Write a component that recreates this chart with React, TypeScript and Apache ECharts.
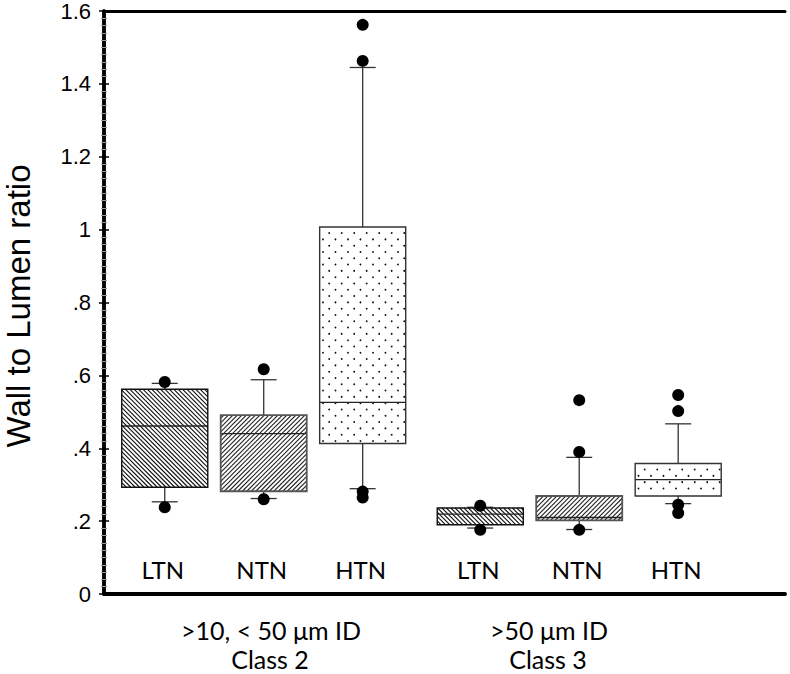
import React, { useEffect, useRef } from "react";
import * as echarts from "echarts";

// ---- data ----
const groups = ["LTN", "NTN", "HTN"];
const classLine1 = [">10, < 50 μm ID", ">50 μm ID"];
const classLine2 = ["Class 2", "Class 3"];
const yTickLabels = ["0", ".2", ".4", ".6", ".8", "1", "1.2", "1.4", "1.6"];

// order: Class2 LTN, NTN, HTN, Class3 LTN, NTN, HTN
const lowerWhisker = [0.253, 0.262, 0.289, 0.181, 0.177, 0.248];
const q1 = [0.293, 0.282, 0.413, 0.19, 0.202, 0.269];
const median = [0.461, 0.44, 0.526, 0.219, 0.21, 0.314];
const q3 = [0.562, 0.491, 1.007, 0.236, 0.269, 0.358];
const upperWhisker = [0.578, 0.588, 1.445, 0.238, 0.375, 0.467];
const outliers = [
  [0.582, 0.238],
  [0.617, 0.26],
  [1.562, 1.463, 0.281, 0.265],
  [0.242, 0.176],
  [0.532, 0.39, 0.176],
  [0.546, 0.502, 0.245, 0.222],
];

// ---- layout ----
const BOX_W = 0.878;
const CAP_HALF = 13;
const posOf = (k: number) => {
  const g = Math.floor(k / 3);
  const j = k % 3;
  return 0.62 + j * 1.01 + g * 3.22;
};

function hatch(x0: number, y0: number, x1: number, y1: number, dir: number, p: number, color: string) {
  const out: any[] = [];
  if (dir < 0) {
    const cMin = Math.floor((y0 - x1) / p) * p;
    const cMax = y1 - x0;
    for (let c = cMin; c <= cMax; c += p) {
      const xs = Math.max(x0, y0 - c);
      const xe = Math.min(x1, y1 - c);
      if (xe - xs > 0.3) {
        out.push({
          type: "line",
          silent: true,
          shape: { x1: xs, y1: xs + c, x2: xe, y2: xe + c },
          style: { stroke: color, lineWidth: 1.1 },
        });
      }
    }
  } else {
    const cMin = Math.floor((x0 + y0) / p) * p;
    const cMax = x1 + y1;
    for (let c = cMin; c <= cMax; c += p) {
      const xs = Math.max(x0, c - y1);
      const xe = Math.min(x1, c - y0);
      if (xe - xs > 0.3) {
        out.push({
          type: "line",
          silent: true,
          shape: { x1: xs, y1: c - xs, x2: xe, y2: c - xe },
          style: { stroke: color, lineWidth: 1.1 },
        });
      }
    }
  }
  return out;
}

function dots(x0: number, y0: number, x1: number, y1: number) {
  const out: any[] = [];
  let r = 0;
  for (let y = y0 + 6; y < y1 - 1.5; y += 6.3, r++) {
    const off = r % 2 === 0 ? 9.5 : 3.3;
    for (let x = x0 + off; x < x1 - 1.5; x += 12.5) {
      out.push({
        type: "circle",
        silent: true,
        shape: { cx: x, cy: y, r: 0.9 },
        style: { fill: "#111" },
      });
    }
  }
  return out;
}

export default function App() {
  const ref = useRef<HTMLDivElement>(null);

  useEffect(() => {
    if (!ref.current) return;
    const chart = echarts.init(ref.current, undefined, { renderer: "svg" });

    const boxData = lowerWhisker.map((_, k) => [
      posOf(k),
      lowerWhisker[k],
      q1[k],
      median[k],
      q3[k],
      upperWhisker[k],
    ]);
    const outlierData: number[][] = [];
    outliers.forEach((arr, k) => arr.forEach((v) => outlierData.push([posOf(k), v])));

    const borderColors = ["#111", "#555", "#333"];

    const renderItem = (params: any, api: any) => {
      const k = params.dataIndex;
      const j = k % 3;
      const x = api.value(0);
      const pLw = api.coord([x, api.value(1)]);
      const pQ1 = api.coord([x, api.value(2)]);
      const pMed = api.coord([x, api.value(3)]);
      const pQ3 = api.coord([x, api.value(4)]);
      const pUw = api.coord([x, api.value(5)]);
      const p0 = api.coord([x, 0]);
      const half = api.size([BOX_W, 0])[0] / 2;
      const cx = pMed[0];
      const bx0 = cx - half;
      const bx1 = cx + half;
      const by0 = pQ3[1];
      const by1 = pQ1[1];
      const wStyle = { stroke: "#333", lineWidth: 1.3 };
      const children: any[] = [
        { type: "line", shape: { x1: cx, y1: by0, x2: cx, y2: pUw[1] }, style: wStyle },
        { type: "line", shape: { x1: cx - CAP_HALF, y1: pUw[1], x2: cx + CAP_HALF, y2: pUw[1] }, style: wStyle },
        { type: "line", shape: { x1: cx, y1: by1, x2: cx, y2: pLw[1] }, style: wStyle },
        { type: "line", shape: { x1: cx - CAP_HALF, y1: pLw[1], x2: cx + CAP_HALF, y2: pLw[1] }, style: wStyle },
        {
          type: "rect",
          shape: { x: bx0, y: by0, width: bx1 - bx0, height: by1 - by0 },
          style: { fill: "#fff", stroke: "none" },
        },
      ];
      if (j === 0) children.push(...hatch(bx0, by0, bx1, by1, -1, 4.4, "#111"));
      else if (j === 1) children.push(...hatch(bx0, by0, bx1, by1, 1, 4.5, "#222"));
      else children.push(...dots(bx0, by0, bx1, by1));
      children.push(
        {
          type: "line",
          shape: { x1: bx0, y1: pMed[1], x2: bx1, y2: pMed[1] },
          style: { stroke: "#222", lineWidth: 1.3 },
        },
        {
          type: "rect",
          shape: { x: bx0, y: by0, width: bx1 - bx0, height: by1 - by0 },
          style: { fill: "none", stroke: borderColors[j], lineWidth: j === 1 ? 1.8 : 1.4 },
        },
        {
          type: "text",
          x: cx - 2,
          y: p0[1] - 25,
          style: {
            text: groups[j],
            fontFamily: "Lato",
            fontSize: 24,
            fill: "#000",
            align: "center",
            verticalAlign: "middle",
          },
        }
      );
      return { type: "group", children };
    };

    const yAxisCommon = {
      type: "value",
      min: 0,
      max: 1.6,
      interval: 0.2,
      splitLine: { show: false },
      axisLine: { show: true, lineStyle: { color: "#000", width: 3.5 } },
      axisTick: { show: true, length: 5, lineStyle: { color: "#000", width: 1.5 } },
      minorTick: { show: true, splitNumber: 10, length: 3, lineStyle: { color: "#999", width: 1 } },
    };

    chart.setOption({
      animation: false,
      grid: { left: 104, right: 5, top: 6, bottom: 80, containLabel: false },
      xAxis: [
        {
          type: "value",
          min: 0,
          max: 6.95,
          position: "bottom",
          axisLine: { show: true, onZero: false, lineStyle: { color: "#000", width: 4 } },
          axisTick: { show: false },
          axisLabel: { show: false },
          splitLine: { show: false },
        },
        {
          type: "value",
          min: 0,
          max: 6.95,
          position: "top",
          axisLine: { show: true, onZero: false, lineStyle: { color: "#000", width: 3 } },
          axisTick: { show: false },
          axisLabel: { show: false },
          splitLine: { show: false },
        },
      ],
      yAxis: [
        {
          ...yAxisCommon,
          position: "left",
          axisLabel: {
            show: true,
            margin: 13,
            fontFamily: "Liberation Sans",
            fontSize: 22,
            color: "#000",
            formatter: (v: number) => yTickLabels[Math.round(v / 0.2)],
          },
        },
        {
          ...yAxisCommon,
          position: "right",
          axisLabel: { show: false },
        },
      ],
      series: [
        {
          type: "custom",
          renderItem,
          data: boxData,
          encode: { x: 0, y: [1, 2, 3, 4, 5] },
          clip: false,
          z: 2,
        },
        {
          type: "scatter",
          data: outlierData,
          symbol: "circle",
          symbolSize: 12,
          itemStyle: { color: "#000", opacity: 1 },
          z: 3,
        },
      ],
      graphic: [
        {
          type: "text",
          x: 18,
          y: 306,
          rotation: Math.PI / 2,
          style: {
            text: "Wall to Lumen ratio",
            fontFamily: "Liberation Sans",
            fontSize: 33,
            fill: "#000",
            align: "center",
            verticalAlign: "middle",
          },
        },
        ...classLine1.map((t, i) => ({
          type: "text",
          x: i === 0 ? 271 : 549,
          y: 630,
          style: {
            text: t,
            fontFamily: "Lato",
            fontSize: 25,
            fill: "#000",
            align: "center",
            verticalAlign: "middle",
          },
        })),
        ...classLine2.map((t, i) => ({
          type: "text",
          x: i === 0 ? 270 : 548,
          y: 659,
          style: {
            text: t,
            fontFamily: "Lato",
            fontSize: 25,
            fill: "#000",
            align: "center",
            verticalAlign: "middle",
          },
        })),
      ],
    });

    return () => chart.dispose();
  }, []);

  return <div ref={ref} style={{ width: 790, height: 674, position: "absolute", left: 0, top: 0 }} />;
}
